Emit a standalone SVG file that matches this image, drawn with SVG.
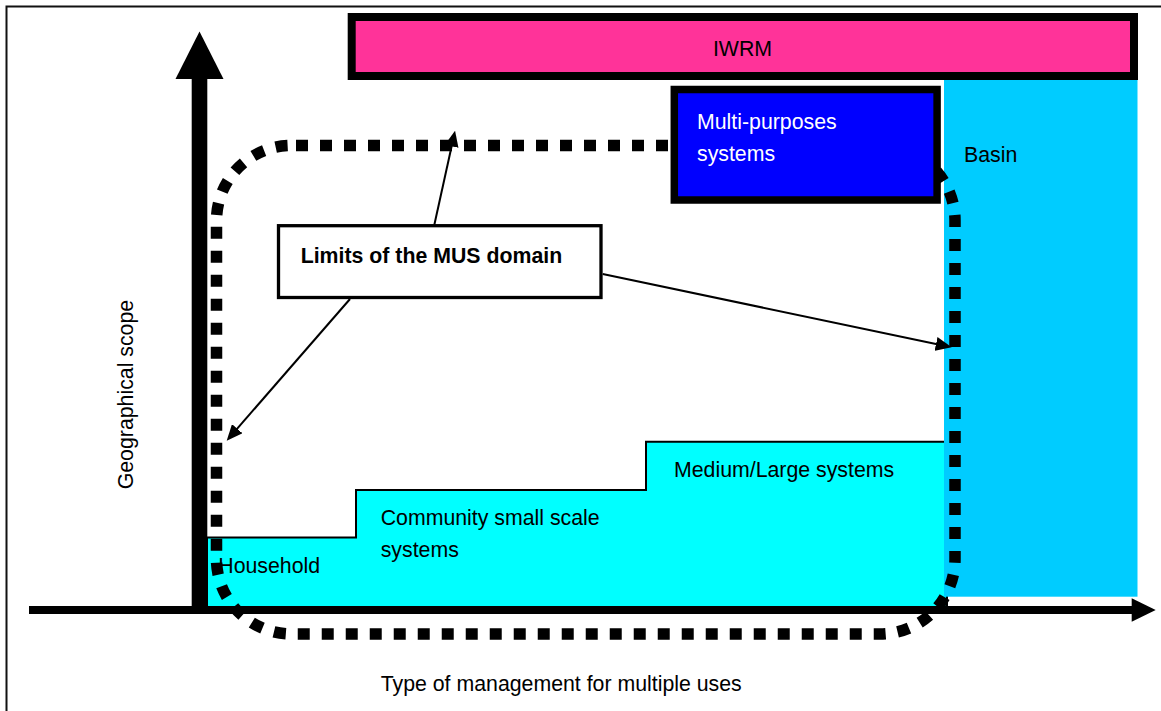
<svg xmlns="http://www.w3.org/2000/svg" width="1161" height="711" viewBox="0 0 1161 711">
  <style>
    .t { font-family: "Liberation Sans", Arial, sans-serif; font-size: 21.3px; fill: #000; }
    .w { fill: #fff; }
    .b { font-weight: bold; }
    .conn { stroke: #000; stroke-width: 2; fill: none; marker-end: url(#ah); }
  </style>
  <defs>
    <marker id="ah" markerUnits="userSpaceOnUse" markerWidth="16" markerHeight="14" refX="6" refY="7" orient="auto">
      <path d="M0,0 L16,7 L0,14 z" fill="#000"/>
    </marker>
  </defs>

  <rect x="0" y="0" width="1161" height="711" fill="#fff"/>
  <path d="M6.5,711 V6.5 H1161" fill="none" stroke="#111" stroke-width="2"/>

  <g id="steps">
    <polygon points="207,610 207,537.5 356,537.5 356,490 646,490 646,441.7 947,441.7 947,610" fill="#00FFFF" stroke="#000" stroke-width="2"/>
    <text class="t" x="218.3" y="573.3">Household</text>
    <text class="t" x="380.7" y="525">Community small scale</text>
    <text class="t" x="380.7" y="556.7">systems</text>
    <text class="t" x="674" y="476.7">Medium/Large systems</text>
  </g>

  <g id="basin">
    <rect x="944" y="80" width="193.5" height="516.7" fill="#00CCFF"/>
    <text class="t" x="964" y="161.7">Basin</text>
  </g>

  <g id="axes">
    <rect x="191.7" y="78" width="15.6" height="536" fill="#000"/>
    <polygon points="199.5,31.5 175.5,79 223.5,79" fill="#000"/>
    <rect x="29" y="606" width="1104" height="8" fill="#000"/>
    <polygon points="1131.7,598.3 1155.7,610 1131.7,621.7" fill="#000"/>
    <text class="t" transform="translate(133,489.3) rotate(-90)">Geographical scope</text>
    <text class="t" x="380.7" y="690.7">Type of management for multiple uses</text>
  </g>

  <g id="mus-domain">
    <path d="M291.5,145.5 H880 A75,75 0 0 1 955,220.5 V559 A75,75 0 0 1 880,634 H291.5 A75,75 0 0 1 216.5,559 V220.5 A75,75 0 0 1 291.5,145.5 Z" fill="none" stroke="#000" stroke-width="11.5" stroke-dasharray="12 12" stroke-dashoffset="19.5"/>
  </g>

  <g id="iwrm">
    <rect x="351.7" y="17" width="782.3" height="59" fill="#FF3399" stroke="#000" stroke-width="8"/>
    <text class="t" x="742.5" y="56" text-anchor="middle">IWRM</text>
  </g>

  <g id="multi-purposes">
    <rect x="674.3" y="89.5" width="262.8" height="110.5" fill="#0000FF" stroke="#000" stroke-width="7.5"/>
    <text class="t w" x="697" y="129">Multi-purposes</text>
    <text class="t w" x="697" y="161">systems</text>
  </g>

  <g id="limits">
    <rect x="278.5" y="225.7" width="322.5" height="71.8" fill="#fff" stroke="#000" stroke-width="3.3"/>
    <text class="t b" x="300.7" y="263.3">Limits of the MUS domain</text>
  </g>

  <g id="connectors">
    <line class="conn" x1="434.3" y1="225" x2="452.9" y2="140.5"/>
    <line class="conn" x1="350" y1="299" x2="233.3" y2="433.2"/>
    <line class="conn" x1="602.7" y1="274" x2="941.9" y2="345.2"/>
  </g>
</svg>
